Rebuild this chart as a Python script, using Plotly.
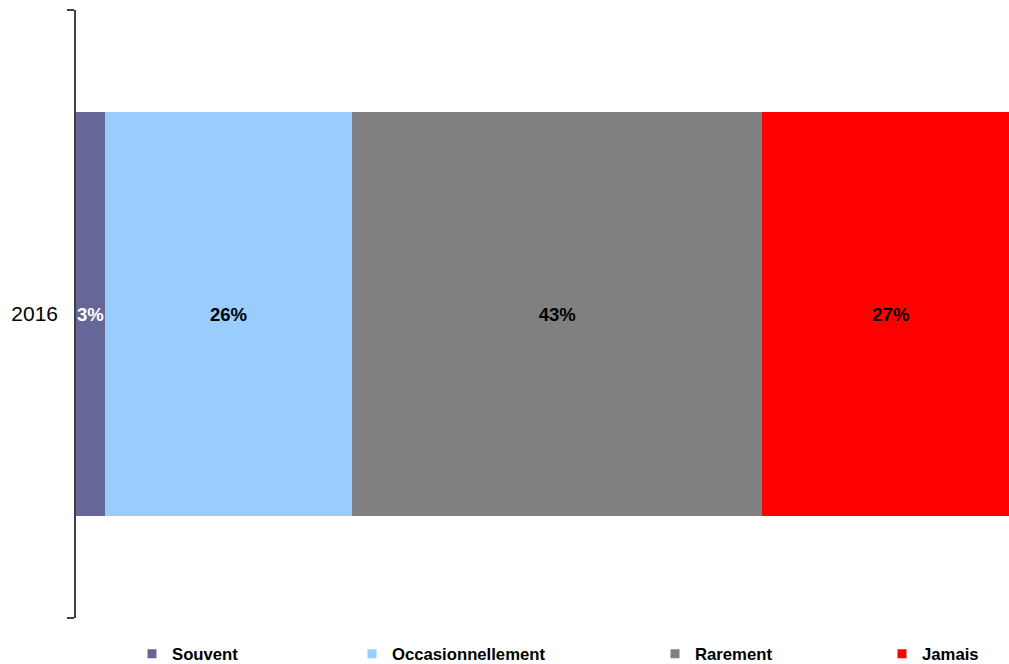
import plotly.graph_objects as go

categories = ["2016"]
series_names = ["Souvent", "Occasionnellement", "Rarement", "Jamais"]
series_values = [[3], [26], [43], [27]]
series_labels = ["3%", "26%", "43%", "27%"]
colors = ["#666699", "#99CCFF", "#808080", "#FF0000"]
label_colors = ["white", "black", "black", "black"]
legend_x_px = [132, 352, 655, 882]

W, H = 1009, 664

fig = go.Figure()
for i, name in enumerate(series_names):
    fig.add_trace(go.Bar(
        y=categories, x=series_values[i], orientation="h", name=name,
        marker=dict(color=colors[i], line=dict(width=0)),
        text=[series_labels[i]], textposition="inside", insidetextanchor="middle",
        textangle=0, constraintext="none",
        textfont=dict(family="Liberation Sans, Arial", size=18.5, color=label_colors[i], weight="bold"),
        showlegend=False, hoverinfo="skip",
    ))
    lg = "legend" if i == 0 else f"legend{i+1}"
    fig.add_trace(go.Scatter(
        x=[None], y=[None], mode="markers", name=name,
        marker=dict(symbol="square", size=9, color=colors[i]),
        showlegend=True, legend=lg,
    ))

legend_common = dict(
    orientation="h", xref="container", yref="container",
    yanchor="middle", xanchor="left", y=1 - 654 / H,
    bgcolor="rgba(0,0,0,0)", borderwidth=0,
    font=dict(family="Liberation Sans, Arial", size=16.7, color="black", weight="bold"),
    itemwidth=30,
)
layout_legends = {}
for i in range(4):
    key = "legend" if i == 0 else f"legend{i+1}"
    layout_legends[key] = dict(legend_common, x=legend_x_px[i] / W)

fig.update_layout(
    width=W, height=H,
    margin=dict(l=76, r=0, t=10, b=46),
    barmode="stack", bargap=0.336,
    plot_bgcolor="white", paper_bgcolor="white",
    xaxis=dict(range=[0, 97.9], showgrid=False, zeroline=False, showticklabels=False,
               showline=False, ticks=""),
    yaxis=dict(type="category", showgrid=False, zeroline=False,
               showline=True, linecolor="#404040", linewidth=1.5,
               ticks="outside", tickson="boundaries", ticklen=7, tickcolor="#404040",
               tickwidth=1.5,
               tickfont=dict(family="Liberation Sans, Arial", size=21, color="black"),
               ticklabelstandoff=12),
    uniformtext=dict(mode=False),
    **layout_legends,
)

fig.write_html("out.html")
